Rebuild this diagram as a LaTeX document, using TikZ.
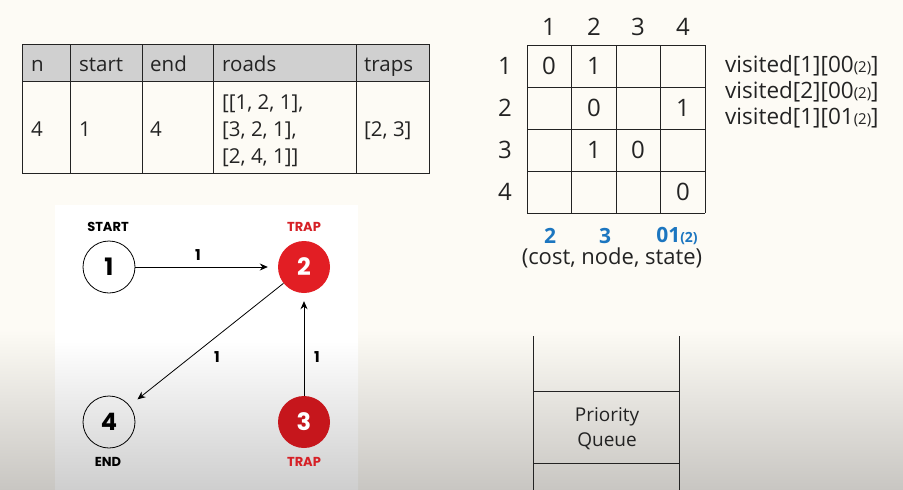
\documentclass[tikz,border=0pt]{standalone}
\usepackage{fontspec}
\setmainfont{Open Sans}
\newfontfamily\gfont{Poppins}
\usetikzlibrary{arrows.meta}
\definecolor{cream}{RGB}{253,251,245}
\definecolor{bggray}{RGB}{200,198,194}
\definecolor{panelgray}{RGB}{206,206,206}
\definecolor{hdrgray}{RGB}{208,208,208}
\definecolor{inkc}{RGB}{35,35,35}
\definecolor{trapred}{RGB}{226,30,36}
\definecolor{trapdark}{RGB}{198,22,28}
\definecolor{labred}{RGB}{214,32,38}
\definecolor{costblue}{RGB}{28,118,192}
\tikzset{
  tline/.style={draw=inkc, line width=0.9pt},
  ttxt/.style={inner sep=0pt, anchor=base west, text=inkc, font=\fontsize{20.5}{27}\selectfont},
  mtxt/.style={inner sep=0pt, text=inkc, font=\fontsize{24}{24}\selectfont},
  vtxt/.style={inner sep=0pt, anchor=west, text=inkc, font=\fontsize{22.5}{22.5}\selectfont},
  btxt/.style={inner sep=0pt, text=costblue, font=\bfseries\fontsize{21}{21}\selectfont},
  gnode/.style={circle, minimum size=52pt, inner sep=0pt, font=\gfont\bfseries\fontsize{24}{24}\selectfont},
  whitenode/.style={gnode, draw=black, line width=0.8pt, text=black},
  rednode/.style={gnode, fill=trapred, text=white},
  darknode/.style={gnode, fill=trapdark, text=white},
  glabel/.style={inner sep=0pt, font=\gfont\bfseries\fontsize{13}{13}\selectfont},
  wlabel/.style={inner sep=0pt, font=\gfont\bfseries\fontsize{15}{15}\selectfont},
  edge/.style={draw=black, line width=0.8pt, -{Stealth[length=8pt,width=7pt]}},
}
\begin{document}
\begin{tikzpicture}[x=1pt,y=-1pt]
\useasboundingbox (0,0) rectangle (903,490);
% background
\fill[cream] (0,0) rectangle (903,330);
\shade[top color=cream, bottom color=bggray] (0,329.5) rectangle (903,490);
% graph panel
\fill[white] (55,205) rectangle (358,341);
\shade[top color=white, bottom color=panelgray] (55,340.5) rectangle (358,490);

% ---------- table ----------
\fill[hdrgray] (22,44) rectangle (429,81);
\draw[tline] (22,44) rectangle (429,173);
\draw[tline] (22,81) -- (429,81);
\foreach \x in {70,142,213,356} \draw[tline] (\x,44) -- (\x,173);
\node[ttxt] (hn) at (31,71) {n};
\node[ttxt] (hs) at (79,71) {start};
\node[ttxt] (he) at (150,71) {end};
\node[ttxt] (hr) at (222,71) {roads};
\node[ttxt] (ht) at (364,71) {traps};
\node[ttxt] (vn) at (31,136) {4};
\node[ttxt] (vs) at (79,136) {1};
\node[ttxt] (ve) at (150,136) {4};
\node[ttxt] (vr1) at (222,109) {{[}[1, 2, 1],};
\node[ttxt] (vr2) at (222,136) {{[}3, 2, 1],};
\node[ttxt] (vr3) at (222,163) {{[}2, 4, 1]]};
\node[ttxt] (vt) at (364,136) {[2, 3]};

% ---------- graph ----------
\node[whitenode] (n1) at (109,267) {1};
\node[rednode] (n2) at (304,267) {2};
\node[darknode] (n3) at (304,422) {3};
\node[whitenode] (n4) at (109,422) {4};
\node[glabel] (ls) at (108,227) {START};
\node[glabel, text=labred] (lt2) at (304,227) {TRAP};
\node[glabel] (le) at (108,462) {END};
\node[glabel, text=labred] (lt3) at (304,462) {TRAP};
\draw[edge, shorten >=10pt] (n1) -- (n2);
\draw[edge, shorten >=10pt] (n2) -- (n4);
\draw[edge, shorten >=8pt] (n3) -- (n2);
\node[wlabel] (w12) at (198,255) {1};
\node[wlabel] (w24) at (217,357) {1};
\node[wlabel] (w32) at (317,357) {1};

% ---------- matrix ----------
\foreach \x in {527,571.5,616,660.5,705} \draw[tline] (\x,45) -- (\x,213);
\foreach \y in {45,87,129,171,213} \draw[tline] (527,\y) -- (705,\y);
\foreach \c/\x in {1/549,2/594,3/638,4/683} \node[mtxt] (ch\c) at (\x,27) {\c};
\foreach \r/\y in {1/66,2/108,3/150,4/192} \node[mtxt] (rh\r) at (505,\y) {\r};
\node[mtxt] (m11) at (549,66) {0};
\node[mtxt] (m12) at (594,66) {1};
\node[mtxt] (m22) at (594,108) {0};
\node[mtxt] (m24) at (683,108) {1};
\node[mtxt] (m32) at (594,150) {1};
\node[mtxt] (m33) at (638,150) {0};
\node[mtxt] (m44) at (683,192) {0};
% visited
\node[vtxt] (v1) at (725,66) {visited[1][00{\fontsize{15}{15}\selectfont(2)}]};
\node[vtxt] (v2) at (725,92) {visited[2][00{\fontsize{15}{15}\selectfont(2)}]};
\node[vtxt] (v3) at (725,118) {visited[1][01{\fontsize{15}{15}\selectfont(2)}]};
% cost labels
\node[btxt] (bc) at (550,236) {2};
\node[btxt] (bn) at (605,236) {3};
\node[btxt] (bs) at (677,236) {01{\fontsize{14}{14}\selectfont(2)}};
\node[inner sep=0pt, text=inkc, font=\fontsize{22}{22}\selectfont] (cns) at (612,258) {(cost, node, state)};

% ---------- priority queue ----------
\coordinate (qlt) at (533,336);
\coordinate (qlb) at (533,490);
\coordinate (qrt) at (679,336);
\coordinate (qrb) at (679,490);
\draw[tline] (qlt) -- (qlb);
\draw[tline] (qrt) -- (qrb);
\draw[tline] (533,391) -- (679,391);
\draw[tline] (533,463) -- (679,463);
\node[inner sep=0pt, align=center, text=inkc, font=\fontsize{19}{25}\selectfont] (pq) at (607,429) {Priority\\Queue};
\end{tikzpicture}
\end{document}
